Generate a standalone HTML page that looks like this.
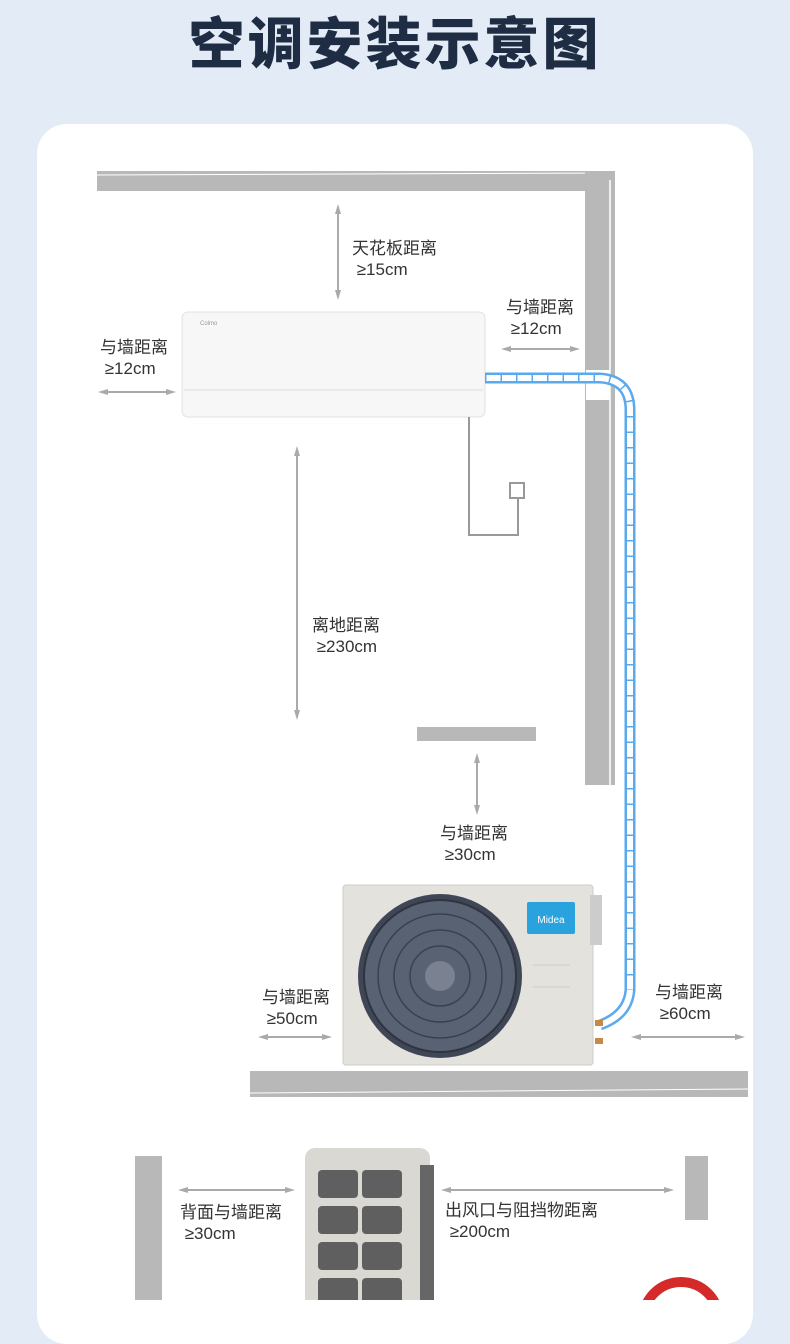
<!DOCTYPE html>
<html><head><meta charset="utf-8"><style>
html,body{margin:0;padding:0}
body{width:790px;height:1300px;overflow:hidden;background:#e3ecf6;position:relative;font-family:"Liberation Sans","Noto Sans CJK SC",sans-serif}
.t{position:absolute;font-size:17px;color:#333;line-height:21px;white-space:nowrap}
h1{position:absolute;top:0px;left:0;width:790px;text-align:center;margin:0;font-size:56px;font-weight:900;color:#1f2d44;letter-spacing:3px;font-family:"Noto Sans CJK SC",sans-serif}
.card{position:absolute;left:37px;top:124px;width:716px;height:1220px;background:#fff;border-radius:30px}
</style></head><body>
<h1>空调安装示意图</h1>
<div class="card"></div>
<svg width="790" height="1300" style="position:absolute;left:0;top:0">
<defs>
<marker id="a" markerWidth="10" markerHeight="8" refX="6" refY="3" orient="auto-start-reverse" markerUnits="userSpaceOnUse"><path d="M0,0 L10,3 L0,6z" fill="#aaa"/></marker>
</defs>
<rect x="97" y="171" width="518" height="20" fill="#b8b8b8"/>
<line x1="97" y1="175" x2="615" y2="173" stroke="#fff" stroke-width="1"/>
<rect x="585" y="171" width="30" height="614" fill="#b8b8b8"/>
<line x1="610" y1="180" x2="610" y2="785" stroke="#fff" stroke-width="1.5"/>
<rect x="586" y="370" width="24" height="30" fill="#fff"/>
<rect x="182" y="312" width="303" height="105" rx="6" fill="#f7f7f7" stroke="#e2e2e2"/>
<line x1="184" y1="390" x2="483" y2="390" stroke="#ddd"/>
<text x="200" y="325" font-size="6" fill="#999">Colmo</text>
<polyline points="469,417 469,535 518,535 518,498" fill="none" stroke="#999" stroke-width="2"/>
<rect x="510" y="483" width="14" height="15" fill="#fff" stroke="#999" stroke-width="2"/>
<path d="M485,378 L600,378 Q630,380 630,410 L630,990 Q628,1015 600,1025" fill="none" stroke="#5aaaf0" stroke-width="11"/>
<path d="M485,378 L600,378 Q630,380 630,410 L630,990 Q628,1015 600,1025" fill="none" stroke="#fff" stroke-width="6"/>
<path d="M485,378 L600,378 Q630,380 630,410 L630,990" fill="none" stroke="#5aaaf0" stroke-width="11" stroke-dasharray="1.5 14" />
<line x1="338" y1="208" x2="338" y2="296" stroke="#aaa" stroke-width="2" marker-start="url(#a)" marker-end="url(#a)"/>
<line x1="102" y1="392" x2="172" y2="392" stroke="#aaa" stroke-width="2" marker-start="url(#a)" marker-end="url(#a)"/>
<line x1="505" y1="349" x2="576" y2="349" stroke="#aaa" stroke-width="2" marker-start="url(#a)" marker-end="url(#a)"/>
<line x1="297" y1="450" x2="297" y2="716" stroke="#aaa" stroke-width="2" marker-start="url(#a)" marker-end="url(#a)"/>
<rect x="417" y="727" width="119" height="14" fill="#b8b8b8"/>
<line x1="477" y1="757" x2="477" y2="811" stroke="#aaa" stroke-width="2" marker-start="url(#a)" marker-end="url(#a)"/>
<rect x="343" y="885" width="250" height="180" rx="3" fill="#e4e2dc" stroke="#ccc"/>
<rect x="590" y="895" width="12" height="50" fill="#ccc"/>
<circle cx="440" cy="976" r="82" fill="#3f4756"/>
<circle cx="440" cy="976" r="76" fill="#586273" stroke="#2e3440" stroke-width="2"/>
<circle cx="440" cy="976" r="62" fill="none" stroke="#3a414e" stroke-width="1.5"/>
<circle cx="440" cy="976" r="46" fill="none" stroke="#3a414e" stroke-width="1.5"/>
<circle cx="440" cy="976" r="30" fill="none" stroke="#3a414e" stroke-width="1.5"/>
<circle cx="440" cy="976" r="15" fill="#7a8292"/>
<rect x="527" y="902" width="48" height="32" rx="2" fill="#2aa2de"/>
<text x="551" y="923" font-size="10" fill="#fff" text-anchor="middle" font-family="Liberation Sans">Midea</text>
<line x1="533" y1="965" x2="570" y2="965" stroke="#ccc"/>
<line x1="533" y1="987" x2="570" y2="987" stroke="#ccc"/>
<rect x="595" y="1020" width="8" height="6" fill="#c58a4a"/><rect x="595" y="1038" width="8" height="6" fill="#c58a4a"/>
<rect x="250" y="1071" width="498" height="26" fill="#b8b8b8"/>
<line x1="250" y1="1093" x2="748" y2="1089" stroke="#fff"/>
<line x1="262" y1="1037" x2="328" y2="1037" stroke="#aaa" stroke-width="2" marker-start="url(#a)" marker-end="url(#a)"/>
<line x1="635" y1="1037" x2="741" y2="1037" stroke="#aaa" stroke-width="2" marker-start="url(#a)" marker-end="url(#a)"/>
<rect x="135" y="1156" width="27" height="144" fill="#b8b8b8"/>
<rect x="685" y="1156" width="23" height="64" fill="#b8b8b8"/>
<rect x="305" y="1148" width="125" height="160" rx="10" fill="#dad8d2"/>
<rect x="420" y="1165" width="14" height="140" fill="#666"/>
<g fill="#5f5f5f">
<rect x="318" y="1170" width="40" height="28" rx="4"/><rect x="362" y="1170" width="40" height="28" rx="4"/>
<rect x="318" y="1206" width="40" height="28" rx="4"/><rect x="362" y="1206" width="40" height="28" rx="4"/>
<rect x="318" y="1242" width="40" height="28" rx="4"/><rect x="362" y="1242" width="40" height="28" rx="4"/>
<rect x="318" y="1278" width="40" height="28" rx="4"/><rect x="362" y="1278" width="40" height="28" rx="4"/>
</g>
<line x1="182" y1="1190" x2="291" y2="1190" stroke="#aaa" stroke-width="2" marker-start="url(#a)" marker-end="url(#a)"/>
<line x1="445" y1="1190" x2="670" y2="1190" stroke="#aaa" stroke-width="2" marker-start="url(#a)" marker-end="url(#a)"/>
<circle cx="681" cy="1320" r="38" fill="none" stroke="#d42a2a" stroke-width="10"/>
</svg>
<div class="t" style="left:352px;top:238px">天花板距离<br>&nbsp;≥15cm</div>
<div class="t" style="left:100px;top:337px">与墙距离<br>&nbsp;≥12cm</div>
<div class="t" style="left:506px;top:297px">与墙距离<br>&nbsp;≥12cm</div>
<div class="t" style="left:312px;top:615px">离地距离<br>&nbsp;≥230cm</div>
<div class="t" style="left:440px;top:823px">与墙距离<br>&nbsp;≥30cm</div>
<div class="t" style="left:262px;top:987px">与墙距离<br>&nbsp;≥50cm</div>
<div class="t" style="left:655px;top:982px">与墙距离<br>&nbsp;≥60cm</div>
<div class="t" style="left:180px;top:1202px">背面与墙距离<br>&nbsp;≥30cm</div>
<div class="t" style="left:445px;top:1200px">出风口与阻挡物距离<br>&nbsp;≥200cm</div>
</body></html>
